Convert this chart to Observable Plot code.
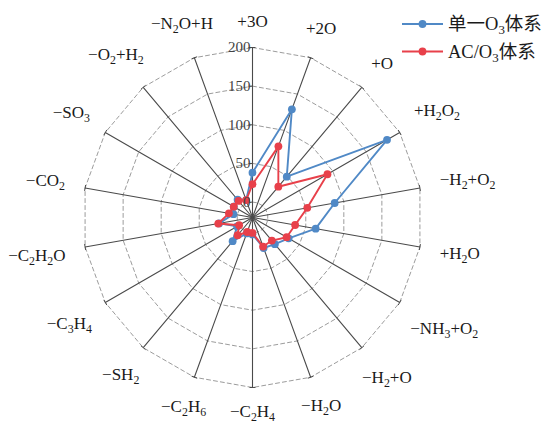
<!DOCTYPE html>
<html>
<head>
<meta charset="utf-8">
<script src="https://cdn.jsdelivr.net/npm/d3@7"></script>
<script src="https://cdn.jsdelivr.net/npm/@observablehq/plot@0.6"></script>
<style>
  html, body { margin: 0; padding: 0; background: #fff; }
  #wrap { position: relative; width: 546px; height: 423px; overflow: hidden; }
  #legend { position: absolute; left: 0; top: 0; pointer-events: none; }
</style>
</head>
<body>
<div id="wrap"></div>
<script>
// ---- data ----
const axes = ["+3O", "+2O", "+O", "+H2O2", "−H2+O2", "+H2O", "−NH3+O2", "−H2+O", "−H2O",
  "−C2H4", "−C2H6", "−SH2", "−C3H4", "−C2H2O", "−CO2", "−SO3", "−O2+H2", "−N2O+H"];
const singleO3 = [38, 129, 49, 181, 88, 63, 34, 25, 22, 2, 2, 20, 3, 24, 5, 8, 10, 4];
const acO3 = [23, 78, 32, 92, 52, 36, 31, 19, 20, 0, 0, 10, 0, 25, 11, 8, 8, 4];
const ringValues = [0, 50, 100, 150, 200];
const seriesNames = ["单一O3体系", "AC/O3体系"];
const seriesColors = ["#5089c6", "#e8404a"];

// ---- geometry helpers (radial scale -20..200 mapped onto 0..45 degrees of arc) ----
const vMin = -20, vMax = 200, arc = 45;
const n = axes.length;
const lonOf = i => 180 - i * 360 / n;
const latOf = v => 90 - (v - vMin) / (vMax - vMin) * arc;
const R = 170; // pixel radius of the outer ring (frame half-size)

const W = 546, H = 423;
const cx = 252, cy = 217;
const margins = {marginLeft: cx - R, marginRight: W - cx - R, marginTop: cy - R, marginBottom: H - cy - R};

// ---- tables ----
const points = [];
[singleO3, acO3].forEach((vals, s) => vals.forEach((v, i) => points.push({series: seriesNames[s], i, value: v})));
const ringRows = ringValues.flatMap(r => axes.map((a, i) => ({ring: r, i})));
const spokes = axes.map((a, i) => ({i}));

// label measurement for placement
const fontFamily = "'Liberation Serif', 'Times New Roman', serif";
const labelSize = 17;
const ctx = document.createElement("canvas").getContext("2d");
function labelWidth(s) {
  ctx.font = `${labelSize}px ${fontFamily}`;
  let w = 0;
  for (let k = 0; k < s.length; k++) {
    const ch = s[k];
    const sub = /\d/.test(ch) && k > 0 && /[A-Za-z]/.test(s[k - 1]);
    w += ctx.measureText(ch).width * (sub ? 0.7 : 1);
  }
  return w;
}
const labelRows = axes.map((a, i) => {
  const th = i * 2 * Math.PI / n;
  const w = labelWidth(a);
  const c = Math.cos(th);
  const rpx = 190 + (w / 2) * Math.abs(Math.sin(th)) + (c < 0 ? 4 : 6) * Math.abs(c);
  const v = rpx / R * (vMax - vMin) + vMin;
  return {label: a, i, v};
});

const tickLen = 4;
const ringTicks = ringValues.map(v => {
  const rpx = (v - vMin) / (vMax - vMin) * R;
  return {v, d: tickLen / rpx * 180 / Math.PI};
});

const series = (k) => points.filter(d => d.series === seriesNames[k]);

const plot = Plot.plot({
  width: W,
  height: H,
  ...margins,
  projection: {
    type: "azimuthal-equidistant",
    rotate: [0, -90],
    clip: false,
    domain: d3.geoCircle().center([0, 90]).radius(arc).precision(0.5)()
  },
  color: {domain: seriesNames, range: seriesColors},
  style: {fontFamily, background: "transparent", overflow: "visible"},
  marks: [
    // dashed rings (polygons)
    Plot.line(ringRows, {
      x: d => lonOf(d.i), y: d => latOf(d.ring), z: "ring",
      curve: "linear-closed", stroke: "#9c9c9c", strokeWidth: 1, strokeDasharray: "4,3"
    }),
    // spokes
    Plot.link(spokes, {
      x1: d => lonOf(d.i), y1: () => 90, x2: d => lonOf(d.i), y2: () => latOf(vMax),
      stroke: "#4a4a4a", strokeWidth: 1.1
    }),
    // small ticks at spoke ends
    Plot.link(spokes, {
      x1: d => lonOf(d.i) - 1, y1: () => latOf(vMax), x2: d => lonOf(d.i) + 1, y2: () => latOf(vMax),
      curve: "linear", stroke: "#4a4a4a", strokeWidth: 1
    }),
    // ticks on the value axis
    Plot.link(ringTicks, {
      x1: () => 180, y1: d => latOf(d.v), x2: d => 180 + d.d, y2: d => latOf(d.v),
      curve: "linear", stroke: "#4a4a4a", strokeWidth: 1
    }),
    // series 1
    Plot.line(series(0), {
      x: d => lonOf(d.i), y: d => latOf(d.value), stroke: "series",
      curve: "linear-closed", strokeWidth: 1.9
    }),
    Plot.dot(series(0), {
      x: d => lonOf(d.i), y: d => latOf(d.value), fill: "series", r: 3.9, stroke: "none"
    }),
    // series 2
    Plot.line(series(1), {
      x: d => lonOf(d.i), y: d => latOf(d.value), stroke: "series",
      curve: "linear-closed", strokeWidth: 1.9
    }),
    Plot.dot(series(1), {
      x: d => lonOf(d.i), y: d => latOf(d.value), fill: "series", r: 3.9, stroke: "none"
    }),
    // ring value labels
    Plot.text(ringValues, {
      x: () => 180, y: d => latOf(d), text: d => String(d),
      textAnchor: "end", dx: -2, fontSize: 15, fill: "#444"
    }),
    // axis labels
    Plot.text(labelRows, {
      x: d => lonOf(d.i), y: d => latOf(d.v), text: "label",
      textAnchor: "middle", lineAnchor: "middle", fontSize: labelSize, fill: "#1a1a1a"
    })
  ]
});

// subscripts for chemical formulas
const SVGNS = "http://www.w3.org/2000/svg";
function applySubscripts(textEl) {
  const s = textEl.textContent;
  if (!/[A-Za-z]\d/.test(s)) return;
  while (textEl.firstChild) textEl.removeChild(textEl.firstChild);
  let k = 0;
  while (k < s.length) {
    const ch = s[k];
    const sub = /\d/.test(ch) && k > 0 && /[A-Za-z]/.test(s[k - 1]);
    let j = k + 1;
    while (j < s.length) {
      const c2 = s[j];
      const sub2 = /\d/.test(c2) && /[A-Za-z]/.test(s[j - 1]);
      if (sub2 !== sub) break;
      j++;
    }
    const t = document.createElementNS(SVGNS, "tspan");
    t.textContent = s.slice(k, j);
    if (sub) {
      t.setAttribute("font-size", "0.7em");
      t.setAttribute("baseline-shift", "-4");
    }
    textEl.appendChild(t);
    k = j;
  }
}
plot.querySelectorAll("text").forEach(applySubscripts);

const wrap = document.getElementById("wrap");
wrap.appendChild(plot);

// legend
const lg = d3.select(wrap).append("svg").attr("id", "legend").attr("width", W).attr("height", H);
const legendY = [24, 51.5];
seriesNames.forEach((name, k) => {
  const g = lg.append("g");
  g.append("line").attr("x1", 402).attr("x2", 443).attr("y1", legendY[k]).attr("y2", legendY[k])
    .attr("stroke", seriesColors[k]).attr("stroke-width", 1.9);
  g.append("circle").attr("cx", 422.5).attr("cy", legendY[k]).attr("r", 3.9).attr("fill", seriesColors[k]);
  const t = g.append("text").attr("x", 448).attr("y", legendY[k]).attr("dy", "0.35em")
    .attr("font-size", 18.5).attr("fill", "#1a1a1a")
    .attr("font-family", "'Liberation Serif', 'Noto Sans CJK SC', serif");
  const parts = name.split("O3");
  t.append("tspan").text(parts[0] + "O");
  t.append("tspan").attr("font-size", "0.7em").attr("baseline-shift", "-4").text("3");
  t.append("tspan").text(parts[1]);
});
</script>
</body>
</html>
